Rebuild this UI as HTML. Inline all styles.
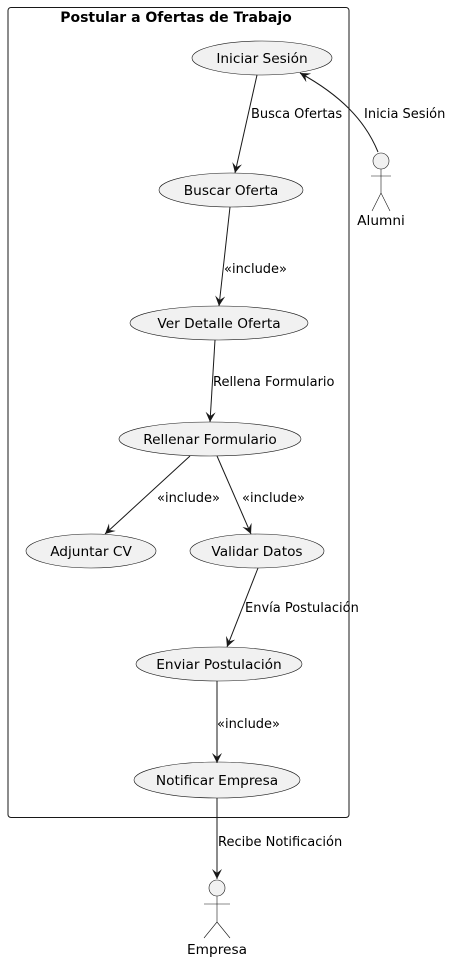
<!DOCTYPE html>
<html><head><meta charset="utf-8"><style>
html,body{margin:0;padding:0;background:#fff;}
svg{display:block;font-family:"DejaVu Sans","Liberation Sans",sans-serif;}
</style></head><body>
<svg width="452" height="960" viewBox="0 0 452 960" xmlns="http://www.w3.org/2000/svg">
<defs><marker id="a" markerWidth="12" markerHeight="12" refX="10" refY="5" orient="auto" markerUnits="userSpaceOnUse">
<path d="M0,0 L10,5 L0,10 L4,5 Z" fill="#181818"/></marker></defs>
<rect x="8" y="7.5" width="341" height="810" rx="3" fill="none" stroke="#181818" stroke-width="1"/>
<text x="176" y="22" text-anchor="middle" font-weight="bold" font-size="14" fill="#000">Postular a Ofertas de Trabajo</text>
<g fill="#F1F1F1" stroke="#181818" stroke-width="0.6">
<ellipse cx="262" cy="58" rx="70" ry="17"/>
<ellipse cx="231" cy="190" rx="72" ry="17"/>
<ellipse cx="219" cy="323" rx="89" ry="17"/>
<ellipse cx="210" cy="439" rx="91" ry="17"/>
<ellipse cx="91" cy="551" rx="65" ry="17"/>
<ellipse cx="257" cy="551" rx="67" ry="17"/>
<ellipse cx="219" cy="664" rx="83" ry="17"/>
<ellipse cx="217" cy="780" rx="83" ry="18"/>
</g>
<g font-size="13.7" fill="#000" text-anchor="middle">
<text x="262" y="63">Iniciar Sesión</text>
<text x="231" y="195">Buscar Oferta</text>
<text x="219" y="328">Ver Detalle Oferta</text>
<text x="210" y="444">Rellenar Formulario</text>
<text x="91" y="556">Adjuntar CV</text>
<text x="257" y="556">Validar Datos</text>
<text x="219" y="669">Enviar Postulación</text>
<text x="217" y="785">Notificar Empresa</text>
<text x="381" y="225">Alumni</text>
<text x="217" y="954">Empresa</text>
</g>
<g fill="#F1F1F1" stroke="#181818" stroke-width="0.6">
<circle cx="381" cy="161" r="8"/>
<path d="M381,169 V193 M371,176 H391 M381,193 L372,211 M381,193 L390,211" fill="none"/>
<circle cx="217" cy="888" r="8"/>
<path d="M217,896 V922 M204,904 H230 M217,922 L204,938 M217,922 L230,938" fill="none"/>
</g>
<g stroke="#181818" stroke-width="1" fill="none" marker-end="url(#a)">
<line x1="257" y1="75" x2="235" y2="173"/>
<path d="M378,152 C365,120 340,95 300,73"/>
<line x1="230" y1="207" x2="219" y2="306"/>
<line x1="215" y1="340" x2="210" y2="422"/>
<line x1="190" y1="456" x2="105" y2="534"/>
<line x1="217" y1="456" x2="251" y2="534"/>
<line x1="258" y1="568" x2="227" y2="647"/>
<line x1="217" y1="681" x2="217" y2="763"/>
<line x1="217" y1="798" x2="217" y2="879"/>
</g>
<g font-size="13" fill="#000">
<text x="251" y="118">Busca Ofertas</text>
<text x="364" y="118">Inicia Sesión</text>
<text x="224" y="273">«include»</text>
<text x="213" y="386">Rellena Formulario</text>
<text x="157" y="502">«include»</text>
<text x="242" y="502">«include»</text>
<text x="245" y="612">Envía Postulación</text>
<text x="217" y="728">«include»</text>
<text x="218" y="846">Recibe Notificación</text>
</g>
</svg>
</body></html>
